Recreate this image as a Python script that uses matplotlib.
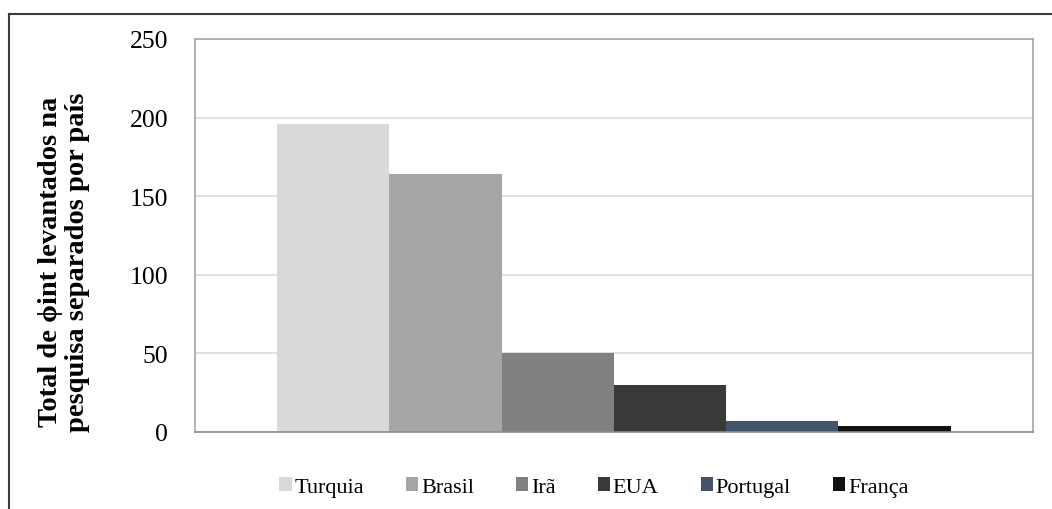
import matplotlib.pyplot as plt
from matplotlib.lines import Line2D

# ----- Matplotlib settings -----
plt.rcParams["font.family"] = ["Liberation Serif", "DejaVu Serif"]
plt.rcParams["font.size"] = 16

countries = ["Turquia", "Brasil", "Irã", "EUA", "Portugal", "França"]
totals = [196, 164, 50, 30, 7, 4]
colors = ["#d9d9d9", "#a6a6a6", "#808080", "#3a3937", "#44546a", "#111111"]

Y_TICKS = [0, 50, 100, 150, 200, 250]
Y_TITLE = "Total de \u03d5int levantados na\npesquisa separados por país"


def main():
    fig = plt.figure(figsize=(10.52, 5.10), dpi=100)
    ax = fig.add_axes([0.1849, 0.151, 0.7971, 0.7706])

    # one category, six series side by side (Excel clustered column style)
    for i, (name, val, col) in enumerate(zip(countries, totals, colors)):
        ax.bar(i, val, width=1.0, color=col, label=name, zorder=2)

    gap = 0.735
    ax.set_xlim(-0.5 - gap, len(countries) - 0.5 + gap)
    ax.set_ylim(0, 250)
    ax.set_yticks(Y_TICKS)
    ax.set_xticks([])
    ax.tick_params(axis="y", length=0, pad=19, labelsize=18.5)
    ax.yaxis.grid(True, color="#dcdcdc", linewidth=1.2, zorder=0)
    ax.set_axisbelow(True)
    for side in ["top", "right", "left"]:
        ax.spines[side].set_color("#a6a6a6")
        ax.spines[side].set_linewidth(1.2)
    ax.spines["bottom"].set_color("#8c8c8c")
    ax.spines["bottom"].set_linewidth(1.2)

    fig.text(64 / 1052, 1 - 262 / 510, Y_TITLE, rotation=90, ha="center",
             va="center", fontweight="bold", fontsize=20.5, linespacing=1.15,
             multialignment="center")

    handles, labels = ax.get_legend_handles_labels()
    fig.legend(handles, labels, loc="center", bbox_to_anchor=(594 / 1052, 1 - 488 / 510),
               ncol=6, frameon=False, fontsize=16, handlelength=0.55,
               handleheight=0.55, handletextpad=0.12, columnspacing=1.9,
               borderaxespad=0, borderpad=0)

    # outer chart frame (top and left edges only)
    frame = dict(color="#3c3c3c", linewidth=1.5, transform=fig.transFigure)
    fig.add_artist(Line2D([9 / 1052, 1.0], [1 - 15 / 510, 1 - 15 / 510], **frame))
    fig.add_artist(Line2D([9 / 1052, 9 / 1052], [0.0, 1 - 15 / 510], **frame))

    fig.savefig("out.png", dpi=100)


if __name__ == "__main__":
    main()
